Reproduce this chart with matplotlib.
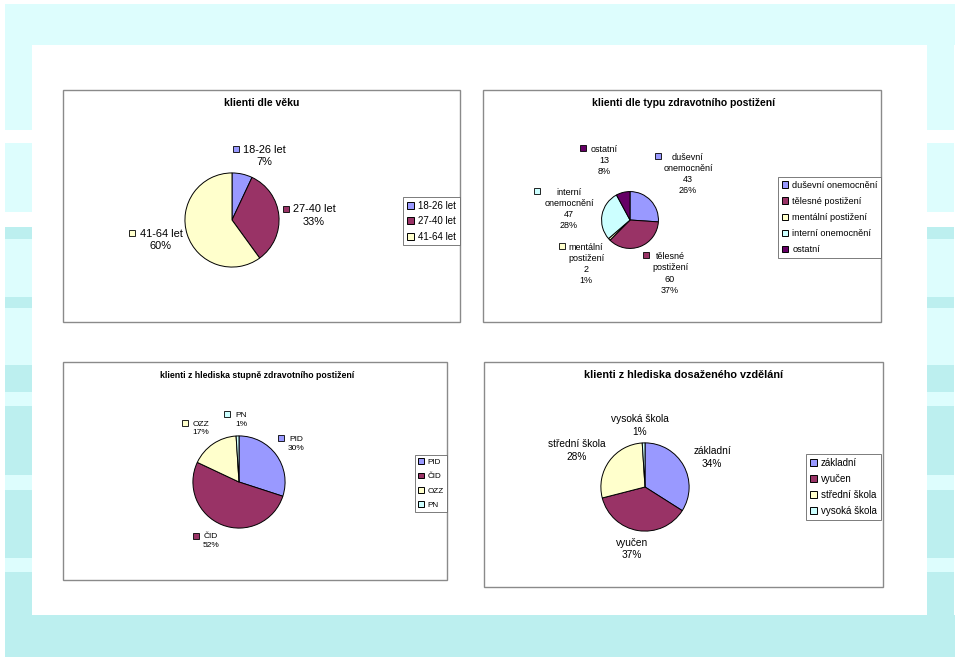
import matplotlib
matplotlib.use('Agg')
import matplotlib.pyplot as plt
from matplotlib.patches import Rectangle

plt.rcParams['font.family'] = ['Liberation Sans', 'DejaVu Sans']

W, H = 960, 660

BLUE = '#9999FF'
PLUM = '#993366'
IVORY = '#FFFFCC'
AQUA = '#CCFFFF'
PURPLE = '#660066'
LIGHT = '#DDFDFD'
DARK = '#BCEFEF'

# --- data ---
vek_labels = ['18-26 let', '27-40 let', '41-64 let']
vek_pct = [7, 33, 60]
vek_colors = [BLUE, PLUM, IVORY]

typ_labels = ['duševní onemocnění', 'tělesné postižení', 'mentální postižení',
              'interní onemocnění', 'ostatní']
typ_counts = [43, 60, 2, 47, 13]
typ_pct = [26, 37, 1, 28, 8]
typ_colors = [BLUE, PLUM, IVORY, AQUA, PURPLE]

stupen_labels = ['PID', 'ČID', 'OZZ', 'PN']
stupen_pct = [30, 52, 17, 1]
stupen_colors = [BLUE, PLUM, IVORY, AQUA]

vzd_labels = ['základní', 'vyučen', 'střední škola', 'vysoká škola']
vzd_pct = [34, 37, 28, 1]
vzd_colors = [BLUE, PLUM, IVORY, AQUA]

# side bands of the slide background (y0, y1, colour)
bands = [(45, 130, LIGHT), (130, 143, 'white'), (143, 212, LIGHT), (212, 227, 'white'),
         (227, 239, DARK), (239, 297, LIGHT), (297, 308, DARK), (308, 365, LIGHT),
         (365, 392, DARK), (392, 406, LIGHT), (406, 475, DARK), (475, 490, LIGHT),
         (490, 558, DARK), (558, 572, LIGHT), (572, 657, DARK)]

fig = plt.figure(figsize=(W / 100, H / 100), dpi=100)
bg = fig.add_axes([0, 0, 1, 1])
bg.set_xlim(0, W)
bg.set_ylim(H, 0)
bg.axis('off')

# slide background
bg.add_patch(Rectangle((5, 4), 950, 41, color=LIGHT, lw=0))
for y0, y1, c in bands:
    bg.add_patch(Rectangle((5, y0), 27, y1 - y0, color=c, lw=0))
    bg.add_patch(Rectangle((927, y0), 27, y1 - y0, color=c, lw=0))
bg.add_patch(Rectangle((5, 615), 950, 42, color=DARK, lw=0))

# chart boxes
for x0, y0, x1, y1 in [(63, 90, 460, 322), (483, 90, 881, 322),
                       (63, 362, 447, 580), (484, 362, 883, 587)]:
    bg.add_patch(Rectangle((x0, y0), x1 - x0, y1 - y0, fill=False,
                           ec='#8a8a8a', lw=1.0))


def pie_axes(cx, cy, r, values, colors):
    ax = fig.add_axes([(cx - r) / W, 1 - (cy + r) / H, 2 * r / W, 2 * r / H])
    wedges, _ = ax.pie(values, colors=colors, startangle=90, counterclock=False,
                       wedgeprops=dict(edgecolor='black', linewidth=0.7))
    ax.set_xlim(-1.02, 1.02)
    ax.set_ylim(-1.02, 1.02)
    return wedges


def labels(texts, centers, squares, colors, size, spacing):
    for t, (x, y), sq, c in zip(texts, centers, squares, colors):
        bg.text(x, y, t, ha='center', va='center', fontsize=size,
                linespacing=spacing, color='black')
        if sq is not None:
            bg.plot(sq[0], sq[1], marker='s', ms=4.2, mfc=c, mec='black', mew=0.6)


def legend(wedges, names, x0, y0, size, spacing):
    leg = fig.legend(wedges, names, loc='upper left',
                     bbox_to_anchor=(x0 / W, 1 - y0 / H), borderaxespad=0,
                     fontsize=size, frameon=True, fancybox=False, shadow=False,
                     edgecolor='#666666', framealpha=1, handlelength=0.7,
                     handleheight=0.7, handletextpad=0.45, labelspacing=spacing,
                     borderpad=0.4)
    leg.get_frame().set_linewidth(0.6)


# --- klienti dle věku ---
bg.text(262, 103, 'klienti dle věku', ha='center', va='center',
        fontsize=7.6, fontweight='bold')
w = pie_axes(232, 220, 48, vek_pct, vek_colors)
labels([f'{n}\n{p}%' for n, p in zip(vek_labels, vek_pct)],
       [(264, 156), (314, 215.5), (161, 240)],
       [(236, 149), (286, 209), (132, 233)], vek_colors, 7.9, 1.3)
legend(w, vek_labels, 403, 197, 7.0, 0.55)

# --- klienti dle typu zdravotního postižení ---
bg.text(684, 103, 'klienti dle typu zdravotního postižení', ha='center',
        va='center', fontsize=7.5, fontweight='bold')
w = pie_axes(630, 220, 29, typ_counts, typ_colors)
labels([f"{n.replace(' ', chr(10))}\n{c}\n{p}%"
        for n, c, p in zip(typ_labels, typ_counts, typ_pct)],
       [(688, 174), (670, 273.5), (586, 264), (569, 209), (604, 160.5)],
       [(658, 156), (646, 255), (562, 246), (537, 191), (583, 148)],
       typ_colors, 6.5, 1.3)
legend(w, typ_labels, 778, 177, 6.6, 0.78)

# --- klienti z hlediska stupně zdravotního postižení ---
bg.text(257, 375, 'klienti z hlediska stupně zdravotního postižení', ha='center',
        va='center', fontsize=6.3, fontweight='bold')
w = pie_axes(239, 482, 47, stupen_pct, stupen_colors)
labels([f'{n}\n{p}%' for n, p in zip(stupen_labels, stupen_pct)],
       [(296, 444), (211, 541), (201, 428.5), (241, 420)],
       [(281, 438), (196, 536), (185, 423), (227, 414)],
       stupen_colors, 6.0, 1.4)
legend(w, stupen_labels, 415, 455, 5.9, 0.8)

# --- klienti z hlediska dosaženého vzdělání ---
bg.text(684, 375, 'klienti z hlediska dosaženého vzdělání', ha='center',
        va='center', fontsize=7.8, fontweight='bold')
w = pie_axes(645, 487, 45, vzd_pct, vzd_colors)
labels([f'{n}\n{p}%' for n, p in zip(vzd_labels, vzd_pct)],
       [(712, 457.5), (632, 549), (577, 450.5), (640, 425.5)],
       [None] * 4, vzd_colors, 7.3, 1.35)
legend(w, vzd_labels, 806, 454, 7.0, 0.62)

fig.savefig('out.png', dpi=100)
